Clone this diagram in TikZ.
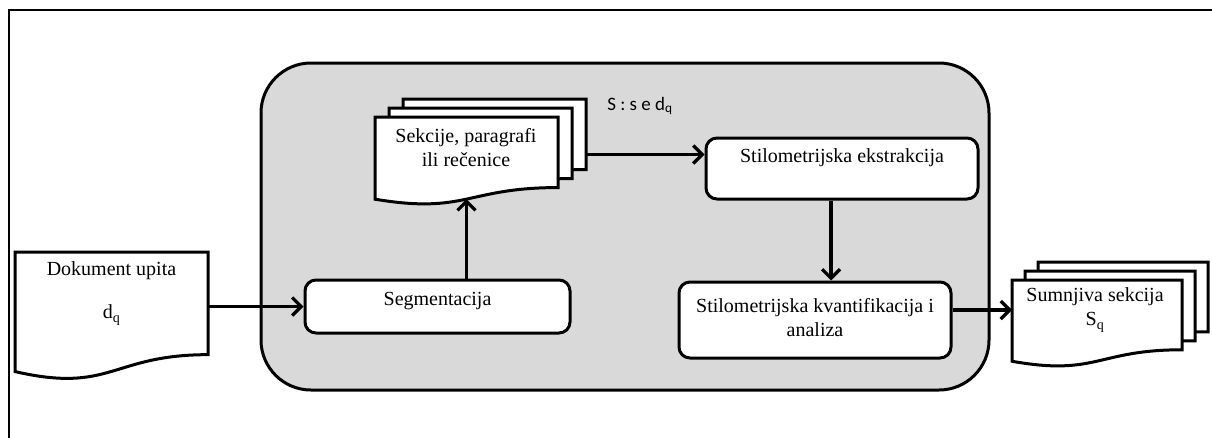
\documentclass[tikz,border=0pt]{standalone}
\usepackage{fontspec}
\setmainfont{Liberation Serif}
\newfontfamily\lblfont{Carlito}
\usetikzlibrary{arrows.meta}
\definecolor{panelgray}{RGB}{217,217,217}
\tikzset{
  box/.style={draw, line width=3pt, fill=white, rounded corners=11pt, inner sep=0pt},
  panel/.style={draw, line width=3pt, fill=panelgray, rounded corners=50pt, inner sep=0pt},
  arr/.style={line width=3.2pt, -{Straight Barb[length=9pt,width=18pt]}},
  txt/.style={font=\fontsize{20}{24}\selectfont, align=center, inner sep=0pt},
  lbl/.style={font=\lblfont\fontsize{19}{22}\selectfont, inner sep=0pt},
  docline/.style={draw, line width=3pt, fill=white, line join=miter},
  ghost/.style={inner sep=0pt, outer sep=0pt},
}
% name, x, y, w, H
\newcommand\docshape[5]{%
  \draw[docline] (#2,#3) -- ({#2+#4},#3) -- ({#2+#4},{#3+0.802*#5})
    .. controls ({#2+0.5*#4},{#3+0.802*#5}) and ({#2+0.5*#4},{#3+1.1075*#5}) .. ({#2},{#3+0.934*#5})
    coordinate[pos=0.5] (#1-bot) -- cycle;
  \path (#2,#3) -- ({#2+#4},{#3+0.802*#5}) node[ghost, midway, minimum width=#4, minimum height={0.802*#5}] (#1) {};
}
\begin{document}
\begin{tikzpicture}[x=1pt, y=-1pt]
\useasboundingbox (0,0) rectangle (1212,437);
% outer frame
\draw[line width=2pt] (9,445) -- (9,10) -- (1220,10);
% panel
\node[panel, minimum width=728, minimum height=327] (grp) at (625,226.5) {};
% input document
\docshape{dq}{15}{252}{193}{128}
\node[txt] (dqt) at (111.5,271) {Dokument upita};
\node[txt] (dqs) at (111.5,315) {d\textsubscript{q}};
% section stack
\docshape{sec3}{403}{99}{183}{88}
\docshape{sec2}{389}{108}{183}{88}
\docshape{sec}{375}{117}{183}{88}
\node[txt] (sect) at (466,148) {Sekcije, paragrafi\\ili re\v{c}enice};
\node[lbl] (slab) at (640,106) {S : s e d\textsubscript{q}};
% boxes
\node[box, minimum width=265, minimum height=53] (seg) at (437.5,306.5) {};
\node[txt] (segt) at (437.5,301) {Segmentacija};
\node[box, minimum width=272, minimum height=61] (ekstr) at (842,168.5) {};
\node[txt] (ekstrt) at (842,158) {Stilometrijska ekstrakcija};
\node[box, minimum width=272, minimum height=76] (kvant) at (815,320) {};
\node[txt] (kvantt) at (815,318) {Stilometrijska kvantifikacija i\\analiza};
% output stack
\docshape{out3}{1038}{262}{170}{87}
\docshape{out2}{1025}{271}{170}{87}
\docshape{out}{1012}{280}{170}{87}
\node[txt] (outt) at (1095,310) {Sumnjiva sekcija\\S\textsubscript{q}};
% connectors
\draw[arr] (seg.west -| dq.east) -- (seg.west);
\draw[arr] (seg.north -| sec-bot) -- (sec-bot);
\draw[arr] ([yshift=14pt]ekstr.west -| sec3.east) -- ([yshift=14pt]ekstr.west);
\draw[arr] ([xshift=-11pt]ekstr.south) -- ([xshift=-11pt]ekstr.south |- kvant.north);
\draw[arr] ([yshift=10pt]kvant.east) -- ([yshift=10pt]kvant.east -| out.west);
\end{tikzpicture}
\end{document}
